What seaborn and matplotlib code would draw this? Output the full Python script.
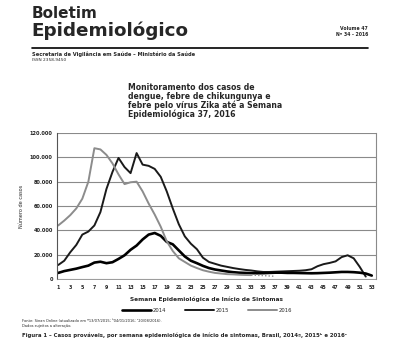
import matplotlib
matplotlib.use("Agg")
import matplotlib.pyplot as plt
import numpy as np
import pandas as pd
import seaborn as sns

# weekly probable cases
cases_2014 = [5000, 6500, 7500, 8500, 9800, 11000, 13500, 14200, 13000, 13800,
              16500, 19500, 24000, 27500, 32500, 36500, 37800, 35500, 30500, 28500,
              23500, 18500, 15000, 13000, 10800, 9000, 7800, 7000, 6200, 5600,
              5200, 5000, 4800, 4700, 4800, 5000, 5200, 5200, 5000, 5000,
              4900, 4800, 4700, 4800, 5000, 5200, 5500, 5800, 5800, 5600,
              5200, 4500, 2800]
cases_2015 = [11500, 15000, 22000, 28000, 36500, 39000, 44000, 55000, 74000, 88000,
              99500, 92000, 87000, 103500, 94000, 93000, 90500, 84000, 72000, 58000,
              45000, 35000, 29000, 24500, 17500, 14000, 12500, 11000, 10000, 9000,
              8200, 7500, 7000, 6300, 5800, 5800, 6000, 6200, 6400, 6600,
              6800, 7200, 8000, 10500, 12200, 13200, 14500, 18000, 19500, 17000,
              10000, 2000]
cases_2016 = [44000, 48000, 52500, 58000, 66000, 80000, 107500, 106500, 102000, 95000,
              86000, 78000, 79500, 80000, 72000, 62000, 53000, 43000, 31000, 23000,
              17000, 14000, 11000, 9000, 7200, 6000, 5000, 4500, 4000, 3800,
              3500, 3300, 3200, 3000, 2800, 2500, 2200]
last_complete_2016 = 33
y_ticks = [0, 20000, 40000, 60000, 80000, 100000, 120000]
y_tick_labels = ["0", "20.000", "40.000", "60.000", "80.000", "100.000", "120.000"]

df14 = pd.DataFrame({"semana": np.arange(1, len(cases_2014) + 1), "casos": cases_2014})
df15 = pd.DataFrame({"semana": np.arange(1, len(cases_2015) + 1), "casos": cases_2015})
df16 = pd.DataFrame({"semana": np.arange(1, len(cases_2016) + 1), "casos": cases_2016})

sns.set_style("white")
plt.rcParams["font.family"] = ["DejaVu Sans"]

fig = plt.figure(figsize=(3.93, 3.63), dpi=100)

# page header
fig.text(32 / 393, 1 - 13 / 363, "Boletim", fontsize=11, fontweight="bold", va="center", ha="left")
fig.text(31 / 393, 1 - 31 / 363, "Epidemiológico", fontsize=13.2, fontweight="bold", va="center", ha="left")
fig.text(368 / 393, 1 - 29 / 363, "Volume 47", fontsize=3.3, fontweight="bold", va="center", ha="right")
fig.text(368 / 393, 1 - 34 / 363, "Nº 34 - 2016", fontsize=3.3, fontweight="bold", va="center", ha="right")
fig.add_artist(plt.Line2D([32 / 393, 368 / 393], [1 - 48 / 363, 1 - 48 / 363],
                          transform=fig.transFigure, color="black", lw=1.2))
fig.text(32 / 393, 1 - 54 / 363, "Secretaria de Vigilância em Saúde – Ministério da Saúde",
         fontsize=3.7, fontweight="bold", va="center", ha="left")
fig.text(32 / 393, 1 - 60 / 363, "ISSN 2358-9450", fontsize=3.1, va="center", ha="left")

fig.text(128 / 393, 1 - 83 / 363,
         "Monitoramento dos casos de\ndengue, febre de chikungunya e\n"
         "febre pelo vírus Zika até a Semana\nEpidemiológica 37, 2016",
         fontsize=5.6, fontweight="bold", va="top", ha="left", linespacing=0.95)

# chart
ax = fig.add_axes([57 / 393, 1 - 279 / 363, 319 / 393, 146 / 363])
sns.lineplot(data=df15, x="semana", y="casos", ax=ax, color="#1a1a1a", lw=1.4, label="2015")
sns.lineplot(data=df14, x="semana", y="casos", ax=ax, color="black", lw=1.9, label="2014")
sns.lineplot(data=df16[df16.semana <= last_complete_2016], x="semana", y="casos", ax=ax,
             color="#8c8c8c", lw=1.4, label="2016")
sns.lineplot(data=df16[df16.semana >= last_complete_2016], x="semana", y="casos", ax=ax,
             color="#8c8c8c", lw=1.0, ls=(0, (1, 1.5)))

ax.set_xlim(0.8, 53.7)
ax.set_ylim(0, 120000)
ax.set_yticks(y_ticks)
ax.set_yticklabels(y_tick_labels)
ax.set_xticks(np.arange(1, 54))
ax.set_xticklabels([str(w) if w % 2 == 1 else "" for w in range(1, 54)])
ax.tick_params(axis="y", labelsize=3.6, length=3, width=0.6, direction="inout", pad=1.5, colors="#222222")
ax.tick_params(axis="x", labelsize=3.4, length=1.5, width=0.5, direction="out", pad=2.5, colors="#222222")
for lbl in ax.get_xticklabels() + ax.get_yticklabels():
    lbl.set_fontweight("bold")
ax.grid(axis="y", color="#8a8a8a", lw=0.8)
ax.set_axisbelow(True)
ax.spines["top"].set_visible(False)
ax.spines["left"].set_color("#555555")
ax.spines["left"].set_linewidth(0.8)
ax.spines["right"].set_color("#8a8a8a")
ax.spines["right"].set_linewidth(0.8)
ax.spines["bottom"].set_color("#8a8a8a")
ax.spines["bottom"].set_linewidth(0.6)
ax.set_ylabel("Número de casos", fontsize=3.6, labelpad=4)
ax.set_xlabel("")

handles, labels = ax.get_legend_handles_labels()
order = [labels.index(y) for y in ["2014", "2015", "2016"]]
ax.legend_.remove()
fig.legend([handles[i] for i in order], [labels[i] for i in order],
           loc="center", bbox_to_anchor=(207 / 393, 1 - 310 / 363), ncol=3,
           frameon=False, fontsize=3.8, handlelength=5.5, columnspacing=3.5, handletextpad=0.4)

fig.text(207 / 393, 1 - 299 / 363, "Semana Epidemiológica de Início de Sintomas",
         fontsize=4.2, fontweight="bold", ha="center", va="center")

fig.text(22 / 393, 1 - 321 / 363,
         "Fonte: Sinan Online (atualizado em ª13/07/2015; ᵇ04/01/2016; ᶜ20/08/2016).",
         fontsize=2.6, ha="left", va="center")
fig.text(22 / 393, 1 - 326 / 363, "Dados sujeitos a alteração.", fontsize=2.6, ha="left", va="center")
fig.text(22 / 393, 1 - 335 / 363,
         "Figura 1 – Casos prováveis, por semana epidemiológica de início de sintomas, Brasil, 2014ª, 2015ᵇ e 2016ᶜ",
         fontsize=3.9, fontweight="bold", ha="left", va="center")

fig.savefig("out.png", dpi=100)
